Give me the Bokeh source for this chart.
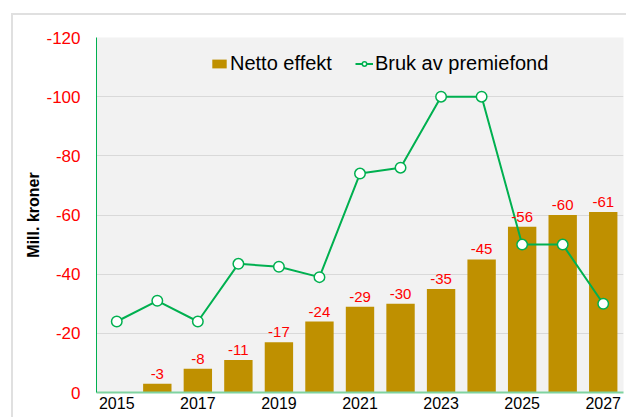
from bokeh.plotting import figure
from bokeh.models import (ColumnDataSource, Range1d, FixedTicker, LabelSet,
                          Legend, LegendItem)
from bokeh.core.properties import value
from bokeh.embed import file_html
from bokeh.resources import INLINE

# ---- data ----
years = list(range(2015, 2028))
netto = [0, -3, -8, -11, -17, -24, -29, -30, -35, -45, -56, -60, -61]
premiefond = [-24, -31, -24, -43.5, -42.5, -39, -74, -76, -100, -100, -50, -50, -30]
y_ticks = [-120, -100, -80, -60, -40, -20, 0]
x_label_years = [2015, 2017, 2019, 2021, 2023, 2025, 2027]

FONT = "Liberation Sans"
GOLD = "#bf9000"
GREEN = "#00b050"
RED = "#ff0000"

# light grey chart-area border (top and left edges), drawn behind a transparent canvas border
chart_border_css = ("linear-gradient(#e0e0e0, #e0e0e0) 11px 13px / 615px 2px no-repeat, "
                    "linear-gradient(#e0e0e0, #e0e0e0) 11px 13px / 2px 404px no-repeat, #ffffff")

p = figure(width=626, height=417, output_backend="svg", toolbar_location=None,
           x_range=Range1d(2014.5, 2027.5), y_range=Range1d(0, -120),
           min_border_left=96, min_border_top=37, min_border_bottom=25, min_border_right=3,
           styles={"background": chart_border_css})

p.background_fill_color = "#f2f2f2"
p.border_fill_alpha = 0
p.outline_line_color = None

p.xgrid.grid_line_color = None
p.ygrid.grid_line_color = "#d9d9d9"
p.ygrid.grid_line_width = 1

xax = p.xaxis[0]
xax.ticker = FixedTicker(ticks=x_label_years)
xax.major_tick_out = 0
xax.major_tick_in = 0
xax.minor_tick_line_color = None
xax.axis_line_color = "#7fd3a0"
xax.axis_line_width = 2
xax.major_label_text_color = "black"
xax.major_label_text_font = FONT
xax.major_label_text_font_size = "16px"
xax.major_label_standoff = 4

yax = p.yaxis[0]
yax.ticker = FixedTicker(ticks=y_ticks)
yax.major_label_overrides = {t: str(t) for t in y_ticks}
yax.major_tick_out = 0
yax.major_tick_in = 0
yax.minor_tick_line_color = None
yax.axis_line_color = GREEN
yax.axis_line_width = 1
yax.major_label_text_color = RED
yax.major_label_text_font = FONT
yax.major_label_text_font_size = "17px"
yax.major_label_standoff = 16
yax.axis_label = "Mill. kroner"
yax.axis_label_text_font = FONT
yax.axis_label_text_font_style = "bold"
yax.axis_label_text_font_size = "16px"
yax.axis_label_text_color = "black"
yax.axis_label_standoff = 1

bar_src = ColumnDataSource(dict(x=years, top=netto))
bars = p.vbar(x="x", top="top", bottom=0, width=0.7, source=bar_src,
              fill_color=GOLD, line_color=None)

line_src = ColumnDataSource(dict(x=years, y=premiefond))
ln = p.line(x="x", y="y", source=line_src, line_color=GREEN, line_width=2)
pts = p.scatter(x="x", y="y", source=line_src, size=10.5, marker="circle",
                fill_color="white", line_color=GREEN, line_width=1.5)

lab_x = [x for x, v in zip(years, netto) if v != 0]
lab_v = [v for v in netto if v != 0]
lab_src = ColumnDataSource(dict(x=lab_x, y=lab_v, t=[str(v) for v in lab_v]))
p.add_layout(LabelSet(x="x", y="y", text="t", source=lab_src, y_offset=10,
                      text_align="center", text_baseline="middle",
                      text_color=RED, text_font=value(FONT), text_font_size="15px"))

legend = Legend(items=[LegendItem(label="Netto effekt", renderers=[bars]),
                       LegendItem(label="Bruk av premiefond", renderers=[ln, pts])],
                orientation="horizontal", location=(114, 317),
                padding=0, margin=0, spacing=23, label_standoff=2,
                glyph_width=18, glyph_height=11,
                border_line_alpha=0, background_fill_alpha=0,
                label_text_font=FONT, label_text_font_size="20px", label_text_color="black")
p.add_layout(legend)

open("out.html", "w").write(file_html(p, INLINE))
